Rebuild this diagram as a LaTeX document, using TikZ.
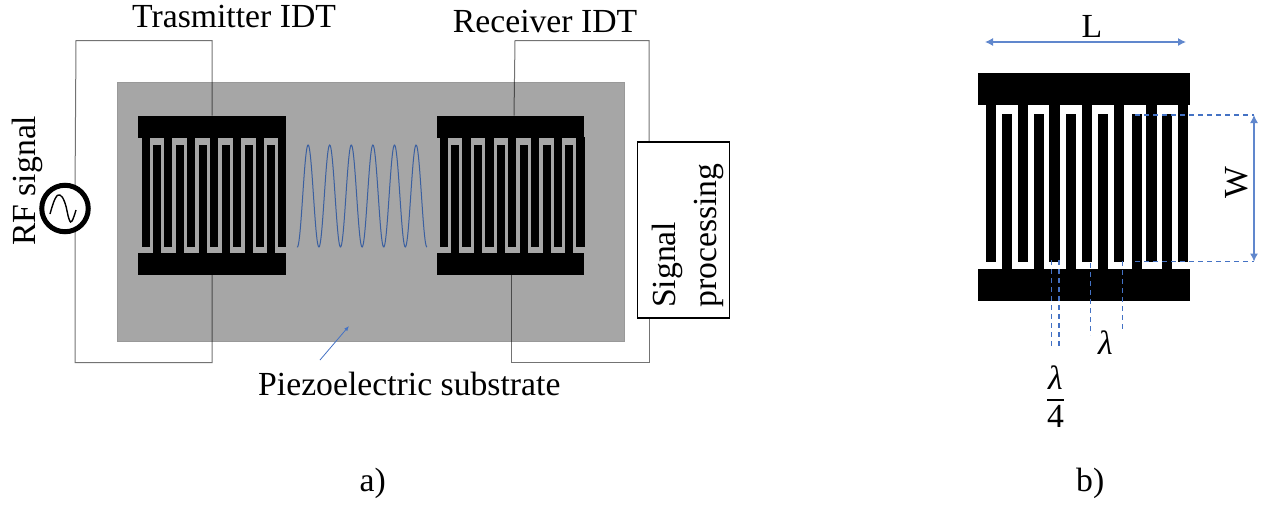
\documentclass[tikz,border=0pt]{standalone}
\usepackage{fontspec}
\setmainfont{Liberation Serif}
\usetikzlibrary{arrows.meta}
\definecolor{subst}{HTML}{A6A6A6}
\definecolor{bluel}{HTML}{4472C4}
\definecolor{wave}{HTML}{3A5FA0}
\tikzset{
  px/.style={x=1pt,y=-1pt},
  lab/.style={font=\fontsize{33.7}{41}\selectfont,inner sep=0pt,align=center,text=black},
  barnode/.style={fill=black,draw=none,inner sep=0pt,rectangle},
  wire/.style={draw=black,draw opacity=.55,line width=1pt},
  dim/.style={draw=bluel,line width=1.2pt,dashed,dash pattern=on 5pt off 4pt},
  dimarrow/.style={draw=bluel!85,line width=1.2pt,{Latex[length=8pt,width=8pt]}-{Latex[length=8pt,width=8pt]}}
}
\begin{document}
\begin{tikzpicture}[px]
\useasboundingbox (0,0) rectangle (1271,507);
% substrate
\node[fill=subst,draw=black!40,line width=.5pt,inner sep=0pt,minimum width=507pt,minimum height=259.5pt] (sub) at (370.8,211.5) {};
% source
\node[circle,draw=black,line width=5pt,fill=white,minimum size=46.5pt,inner sep=0pt] (src) at (65,208.5) {};
\draw[line width=1.4pt,black] plot[smooth,tension=.7] coordinates {(50,214) (55,199) (60,195) (65,203) (69,219) (72,221) (76,210)};
% IDT bars
\node[barnode,minimum width=147.7pt,minimum height=22pt] (txt) at (212.2,126.7) {};
\node[barnode,minimum width=147.7pt,minimum height=22.3pt] (txb) at (212.2,263.8) {};
\node[barnode,minimum width=147.7pt,minimum height=22pt] (rxt) at (510.5,126.7) {};
\node[barnode,minimum width=147.7pt,minimum height=22.3pt] (rxb) at (510.5,263.8) {};
% fingers of the two IDTs of a)
\foreach \o in {0,298.3}{
  \foreach \a in {141.5,164.1,187.1,209.8,232.5,255.5,278.1}
    \fill[black] (\a+\o,137) rectangle (\a+\o+8.1,247.3);
  \foreach \a in {153.1,175.8,198.5,221.5,244.8,267.1}
    \fill[black] (\a+\o,145) rectangle (\a+\o+8,253);
}
% wave
\draw[wave,line width=1pt] plot[domain=297:427,samples=260] (\x,{196-51*sin(16.667*(\x-302.7))});
% signal processing
\node[draw=black,line width=1.8pt,fill=white,minimum width=92pt,minimum height=176.5pt,inner sep=0pt] (sp) at (683.5,230) {};
\node[lab,rotate=90,anchor=base west,align=left] (sptext) at (716,308) {Signal\\processing};
% wires
\coordinate (tl) at (76,40.5);
\coordinate (tr) at (txt.north |- tl);
\coordinate (bl) at (75,362.5);
\coordinate (br) at (txb.south |- bl);
\draw[wire] (src.67) -- (tl) -- (tr) -- (txt.north);
\draw[wire] (src.293) -- (bl) -- (br) -- (txb.south);
\coordinate (rtl) at (515,40.5);
\coordinate (rtr) at (649,40.5);
\coordinate (rbr) at (649,362.5);
\coordinate (rbl) at (511.7,362.5);
\coordinate (spt) at (649,141.7);
\coordinate (spb) at (649,318);
\coordinate (rxta) at (514,115.7);
\coordinate (rxba) at (511.7,275);
\draw[wire] (rxta) -- (rtl) -- (rtr) -- (spt);
\draw[wire] (spb) -- (rbr) -- (rbl) -- (rxba);
% labels a)
\node[lab,anchor=base west] (tlab) at (132,27) {Trasmitter IDT};
\node[lab,anchor=base west] (rlab) at (452.7,32.5) {Receiver IDT};
\node[lab,rotate=90,anchor=base west] (rflab) at (35,246) {RF signal};
\node[lab,anchor=base west] (plab) at (258,395) {Piezoelectric substrate};
\node[lab,anchor=base west] (alab) at (359.5,491.5) {a)};
\coordinate (pa) at (320,360);
\coordinate (pb) at (349,326);
\draw[draw=bluel,line width=.8pt,-{Latex[length=5pt,width=4pt]}] (pa) -- (pb);
% b) IDT
\node[barnode,minimum width=211.7pt,minimum height=31.7pt] (bt) at (1084.2,89.2) {};
\node[barnode,minimum width=211.7pt,minimum height=31.7pt] (bb) at (1084.2,284.9) {};
\foreach \a/\w in {985.7/10,1017.7/10.7,1049.3/10.7,1081.7/10,1114/10,1146/10.7,1178/10.3}
  \fill[black] (\a,104) rectangle (\a+\w,261.7);
\foreach \a/\w in {1001.7/10,1034/10.3,1065.7/10,1097.7/10,1131.7/10,1162/10}
  \fill[black] (\a,114.3) rectangle (\a+\w,270);
% dimension lines
\coordinate (wt) at (1254,115);
\coordinate (wb) at (1254,261.5);
\coordinate (wtl) at (1135,115);
\coordinate (wbl) at (1135,261.5);
\draw[dim] (wtl) -- (wt);
\draw[dim] (wbl) -- (wb);
\draw[dimarrow] (wt) -- (wb);
\coordinate (la) at (985,42);
\coordinate (lb) at (1186,42);
\draw[dimarrow] (la) -- (lb);
\coordinate (d1a) at (1051.7,260); \coordinate (d1b) at (1051.7,348);
\coordinate (d2a) at (1059,260);   \coordinate (d2b) at (1059,348);
\coordinate (d3a) at (1090.7,263); \coordinate (d3b) at (1090.7,335);
\coordinate (d4a) at (1122.3,261); \coordinate (d4b) at (1122.3,332);
\draw[dim] (d1a) -- (d1b);
\draw[dim] (d2a) -- (d2b);
\draw[dim] (d3a) -- (d3b);
\draw[dim] (d4a) -- (d4b);
% labels b)
\node[lab,anchor=base] (llab) at (1092,37.5) {L};
\node[lab,rotate=90,anchor=base] (wlab) at (1247,183) {W};
\node[lab,anchor=base] (lam) at (1105.5,354) {\itshape λ};
\node[lab] (frac) at (1055.5,396.5) {$\displaystyle{\mbox{\itshape λ}\above 1.5pt\mbox{4}}$};
\node[lab,anchor=base west] (blab) at (1076,491.5) {b)};
\end{tikzpicture}
\end{document}
